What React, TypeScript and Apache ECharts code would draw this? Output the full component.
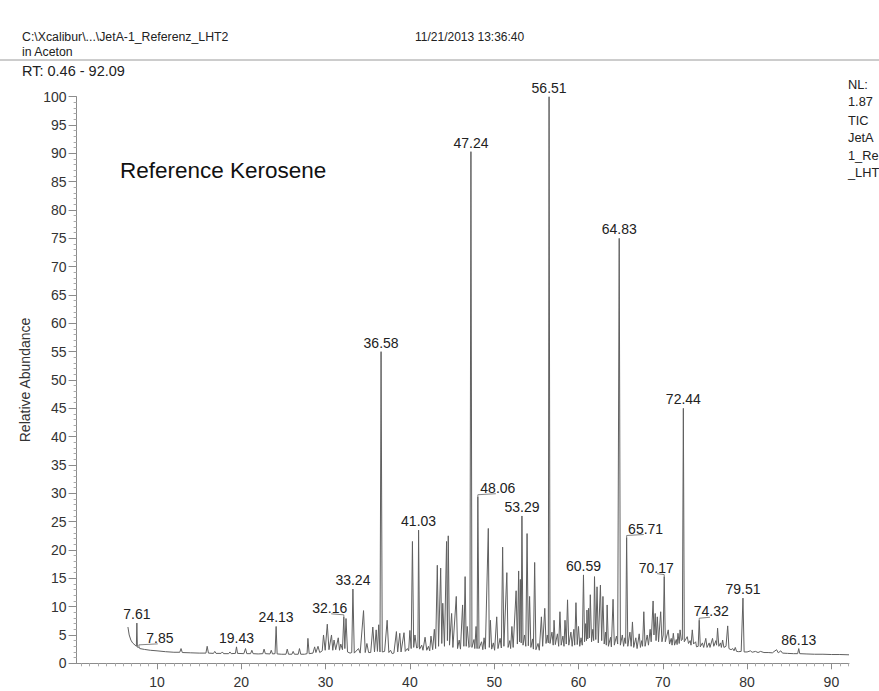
import React, { useEffect, useRef } from "react";
import * as echarts from "echarts";

// Retention-time window and axis tick values
const rtRange = [0.46, 92.09];
const xTickLabels = [10, 20, 30, 40, 50, 60, 70, 80, 90];

// Labelled peaks: [retention time (min), relative abundance (%)]
const labeledPeaks: number[][] = [
  [7.61, 7.1], [7.85, 2.9], [19.43, 2.9], [24.13, 6.5], [32.16, 8.2],
  [33.24, 13.1], [36.58, 55.0], [41.03, 23.5], [47.24, 90.3], [48.06, 29.4],
  [53.29, 26.0], [56.51, 100], [60.59, 15.6], [64.83, 75.0], [65.71, 22.2],
  [70.17, 15.3], [72.44, 45.0], [74.32, 7.6], [79.51, 11.5], [86.13, 2.6],
];

// TIC trace between the labelled peaks: [retention time, relative abundance]
const traceEarly: number[][] = [
  [6.55, 6.4], [6.7, 5.0], [6.9, 4.1], [7.1, 3.6], [7.4, 3.2], [7.55, 3.0],
  [7.67, 2.9], [7.75, 2.75], [7.95, 2.6], [8.5, 2.45], [9.2, 2.3], [10, 2.2],
  [11, 2.05], [12, 1.95], [12.7, 1.95], [12.85, 2.6], [13.0, 1.9], [14, 1.85],
  [15, 1.8], [15.8, 1.8], [15.95, 3.0], [16.1, 1.8], [16.7, 1.75], [16.85, 2.1],
  [17, 1.75], [17.6, 1.75], [17.75, 2.0], [17.9, 1.7], [18.5, 1.7], [18.65, 2.0],
  [18.8, 1.7], [19.3, 1.75], [19.55, 1.75], [20.3, 1.7], [20.5, 2.6], [20.65, 1.7],
  [21.1, 1.7], [21.25, 2.3], [21.4, 1.7], [22, 1.65], [22.55, 1.7], [22.7, 2.5],
  [22.85, 1.7], [23.4, 1.65], [23.55, 2.3], [23.7, 1.65], [24.0, 1.7], [24.25, 1.65],
  [24.8, 1.6], [25.3, 1.6], [25.45, 2.5], [25.6, 1.6], [26.0, 1.6], [26.15, 2.1],
  [26.3, 1.6], [26.75, 1.6], [26.9, 2.6], [27.05, 1.6], [27.5, 1.6], [27.8, 1.7],
  [27.9, 4.4], [28.05, 1.7], [28.5, 1.8], [28.7, 2.9], [28.85, 1.9], [29.1, 3.0],
  [29.3, 1.9], [29.6, 2.2], [29.75, 5.0], [29.95, 2.3], [30.2, 6.9], [30.4, 2.4],
];

const traceC30: number[][] = [
  [30.7, 5.0], [30.85, 2.3], [31.0, 4.1], [31.2, 2.4], [31.5, 4.5], [31.65, 2.3],
  [31.8, 3.4], [32.0, 2.4], [32.28, 2.6], [32.42, 7.9], [32.6, 2.0], [32.9, 1.8],
  [33.1, 1.9], [33.4, 1.8], [33.9, 2.6], [34.1, 1.8], [34.5, 9.3], [34.7, 1.9],
  [34.9, 3.5], [35.1, 1.9], [35.35, 1.9], [35.6, 6.4], [35.8, 2.0], [36.0, 5.9],
  [36.15, 2.1], [36.3, 6.8], [36.45, 2.0], [36.72, 2.0], [37.0, 2.1], [37.3, 7.6],
  [37.5, 1.9], [37.7, 2.3], [37.9, 1.7], [38.1, 1.8], [38.4, 5.6], [38.55, 2.0],
  [38.8, 5.3], [38.95, 2.0], [39.3, 5.4], [39.45, 2.1], [39.7, 2.6], [39.85, 2.2],
  [40.0, 5.8], [40.15, 2.6], [40.3, 21.5], [40.45, 2.8], [40.6, 5.0], [40.8, 2.7],
  [40.95, 2.8],
];

const traceC40: number[][] = [
  [41.15, 2.5], [41.4, 3.2], [41.55, 2.3], [41.8, 4.6], [42.0, 2.3], [42.2, 3.0],
  [42.35, 2.2], [42.5, 4.8], [42.7, 2.4], [42.9, 6.0], [43.05, 2.6], [43.25, 17.3],
  [43.4, 3.0], [43.65, 16.8], [43.78, 3.5], [43.9, 10.6], [44.1, 3.0], [44.35, 21.5],
  [44.45, 4.0], [44.55, 22.5], [44.7, 3.2], [44.95, 8.8], [45.1, 2.8], [45.5, 11.8],
  [45.65, 2.6], [45.85, 4.1], [46.0, 2.5], [46.25, 10.3], [46.4, 3.0], [46.55, 15.3],
  [46.68, 3.0], [46.8, 6.5], [47.0, 2.8], [47.12, 3.0], [47.36, 2.8], [47.6, 4.2],
  [47.7, 2.6], [47.85, 6.5], [47.97, 2.6], [48.2, 2.6], [48.5, 3.8], [48.65, 2.4],
  [48.8, 4.5], [48.95, 2.5], [49.3, 23.8], [49.42, 2.8], [49.55, 7.6], [49.7, 2.5],
  [49.9, 3.6], [50.05, 2.3], [50.3, 8.2], [50.45, 2.6], [50.7, 4.4], [50.85, 2.7],
  [51.0, 20.5], [51.15, 3.0], [51.5, 16.0], [51.65, 2.8], [51.85, 4.0], [51.95, 2.6],
  [52.1, 6.5], [52.25, 2.8], [52.6, 12.8], [52.75, 3.4], [52.9, 16.3], [53.0, 3.8],
  [53.1, 14.8], [53.2, 3.6], [53.42, 3.2], [53.6, 5.0], [53.75, 3.0], [53.9, 22.9],
  [54.05, 3.1], [54.2, 11.8], [54.35, 2.8], [54.55, 4.3], [54.65, 2.5], [54.8, 17.8],
  [54.95, 2.4], [55.2, 3.5], [55.35, 2.3], [55.6, 8.2], [55.75, 3.0], [56.0, 9.7],
  [56.15, 3.5], [56.3, 5.0], [56.42, 3.6], [56.62, 3.5],
];

const traceC56: number[][] = [
  [56.85, 5.5], [57.0, 3.2], [57.1, 7.6], [57.25, 3.3], [57.5, 5.2], [57.65, 3.0],
  [57.8, 9.1], [57.95, 3.2], [58.15, 4.8], [58.28, 3.0], [58.4, 7.6], [58.55, 3.4],
  [58.7, 11.2], [58.85, 3.2], [59.1, 5.5], [59.25, 3.0], [59.45, 6.0], [59.55, 3.2],
  [59.7, 10.7], [59.85, 3.3], [60.0, 6.5], [60.15, 3.0], [60.3, 4.5], [60.45, 3.2],
  [60.72, 3.8], [60.85, 7.0], [60.95, 4.0], [61.0, 9.4], [61.1, 4.3], [61.2, 9.7],
  [61.3, 4.5], [61.4, 12.1], [61.55, 3.8], [61.7, 6.0], [61.8, 4.0], [61.9, 15.3],
  [62.05, 4.2], [62.2, 13.5], [62.35, 3.6], [62.6, 13.8], [62.75, 4.0], [62.9, 11.8],
  [63.05, 3.4], [63.2, 5.5], [63.3, 3.2], [63.4, 10.3], [63.55, 3.0], [63.8, 4.6],
  [63.9, 2.9], [64.1, 11.3], [64.25, 3.2], [64.5, 4.8], [64.65, 3.4], [64.97, 3.2],
  [65.2, 5.0], [65.35, 3.0], [65.5, 4.5], [65.6, 3.5], [65.85, 3.0], [66.1, 5.5],
  [66.25, 3.0], [66.4, 7.3], [66.55, 2.8], [66.8, 4.5], [66.95, 2.6], [67.2, 5.2],
  [67.35, 2.8], [67.5, 4.0], [67.6, 3.0], [67.75, 9.1], [67.9, 3.0], [68.15, 5.0],
  [68.3, 3.2], [68.5, 6.0], [68.62, 3.8], [68.85, 11.0], [68.95, 5.0], [69.1, 8.8],
  [69.2, 4.0], [69.35, 8.2], [69.5, 3.8], [69.75, 9.1], [69.9, 3.8], [70.05, 5.0],
  [70.3, 3.8], [70.65, 5.9], [70.8, 3.4], [71.0, 4.4], [71.1, 3.2], [71.25, 5.3],
  [71.4, 3.2], [71.6, 4.2], [71.7, 3.3], [71.8, 5.3], [71.95, 3.5], [72.05, 5.9],
  [72.2, 4.0], [72.32, 4.2],
];

const traceLate: number[][] = [
  [72.55, 3.8], [72.9, 4.7], [73.05, 3.5], [73.25, 4.0], [73.35, 3.2], [73.5, 5.9],
  [73.65, 3.4], [73.9, 3.8], [74.0, 2.9], [74.2, 3.0], [74.45, 2.9], [74.7, 3.6],
  [74.85, 2.8], [75.1, 4.4], [75.25, 2.8], [75.5, 3.6], [75.6, 2.8], [75.9, 4.4],
  [76.05, 3.0], [76.3, 4.0], [76.38, 3.2], [76.5, 6.2], [76.65, 3.0], [76.85, 3.6],
  [76.95, 2.8], [77.1, 4.1], [77.25, 2.8], [77.5, 3.0], [77.7, 6.6], [77.85, 2.6],
  [78.1, 2.4], [78.3, 2.6], [78.45, 2.2], [78.6, 2.8], [78.75, 2.1], [79.0, 2.05],
  [79.3, 2.1], [79.65, 2.0], [80.0, 2.0], [80.4, 2.2], [80.6, 1.95], [81.0, 2.1],
  [81.3, 1.9], [81.6, 2.1], [82, 1.9], [82.5, 1.9], [83.0, 1.85], [83.5, 2.4],
  [83.7, 1.85], [84, 2.2], [84.2, 1.8], [84.8, 1.75], [85.5, 1.7], [86.0, 1.7],
  [86.25, 1.7], [87, 1.65], [88, 1.6], [89, 1.6], [90, 1.55], [91, 1.55], [92.09, 1.5],
];

// Horizontal pixel nudges for peak labels drawn with a leader line
const labelNudge: Record<string, number> = {
  "7.85": 21, "32.16": -14, "48.06": 20, "65.71": 19, "70.17": -8, "74.32": 12,
};

// Instrument note at the right margin (only its left edge fits on the page)
const noteLines = ["NL:", "1.87", "TIC", "JetA", "1_Re", "_LHT"];
const noteOffsets = [0, 17, 36, 53, 71, 88];

const FONT = 'Arial, "Liberation Sans", Helvetica, sans-serif';

export default function App() {
  const ref = useRef<HTMLDivElement>(null);

  useEffect(() => {
    if (!ref.current) return;
    const chart = echarts.init(ref.current, null, { renderer: "svg" });

    const trace = [
      ...traceEarly, ...traceC30, ...traceC40, ...traceC56, ...traceLate, ...labeledPeaks,
    ].sort((a, b) => a[0] - b[0]);

    const minorTicks: number[] = [];
    for (let v = 1; v <= 92; v++) if (v % 10 !== 0) minorTicks.push(v);

    const axisColor = "#8c8c8c";
    const textColor = "#333";

    const option: any = {
      animation: false,
      backgroundColor: "#fff",
      grid: { left: 76.6, right: 30, top: 96.7, bottom: 27.7, containLabel: false },
      xAxis: [
        {
          type: "value",
          min: rtRange[0],
          max: rtRange[1],
          position: "bottom",
          axisLine: { show: true, lineStyle: { color: axisColor, width: 1 } },
          axisTick: { show: true, customValues: xTickLabels, length: 6, lineStyle: { color: axisColor } },
          axisLabel: { customValues: xTickLabels, fontSize: 14, fontFamily: FONT, color: textColor, margin: 12 },
          splitLine: { show: false },
        },
        {
          type: "value",
          min: rtRange[0],
          max: rtRange[1],
          position: "bottom",
          axisLine: { show: false },
          axisTick: { show: true, customValues: minorTicks, length: 3, lineStyle: { color: "#aaa" } },
          axisLabel: { show: false },
          splitLine: { show: false },
        },
      ],
      yAxis: {
        type: "value",
        min: 0,
        max: 100,
        interval: 5,
        name: "Relative Abundance",
        nameLocation: "middle",
        nameRotate: 90,
        nameGap: 42,
        nameTextStyle: { fontSize: 14, fontFamily: FONT, color: textColor },
        axisLine: { show: true, lineStyle: { color: axisColor, width: 1 } },
        axisTick: { show: true, length: 8, lineStyle: { color: axisColor } },
        minorTick: { show: true, splitNumber: 5, length: 3, lineStyle: { color: "#aaa" } },
        axisLabel: { fontSize: 14, fontFamily: FONT, color: textColor, margin: 10 },
        splitLine: { show: false },
      },
      series: [
        {
          type: "line",
          xAxisIndex: 0,
          yAxisIndex: 0,
          data: trace,
          showSymbol: false,
          symbol: "none",
          lineStyle: { color: "#606060", width: 1 },
          z: 2,
        },
        {
          type: "custom",
          xAxisIndex: 0,
          yAxisIndex: 0,
          data: labeledPeaks,
          clip: false,
          z: 5,
          renderItem: (_params: any, api: any) => {
            const rt = api.value(0) as number;
            const h = api.value(1) as number;
            const [px, py] = api.coord([rt, h]);
            const text = rt.toFixed(2);
            const dx = labelNudge[text] ?? 0;
            const children: any[] = [
              {
                type: "text",
                x: px + dx,
                y: py - 9,
                style: {
                  text,
                  fontSize: 14,
                  fontFamily: FONT,
                  fill: "#222",
                  align: "center",
                  verticalAlign: "middle",
                },
              },
            ];
            if (dx) {
              children.push({
                type: "polyline",
                shape: { points: [[px, py], [px, py - 2], [px + dx * 0.9, py - 3]] },
                style: { stroke: "#666", lineWidth: 0.8, fill: null },
              });
            }
            return { type: "group", children };
          },
        },
      ],
      graphic: [
        {
          type: "text",
          left: 22,
          top: 31,
          style: { text: "C:\\Xcalibur\\...\\JetA-1_Referenz_LHT2", fontSize: 12.3, fontFamily: FONT, fill: "#222" },
        },
        {
          type: "text",
          left: 22,
          top: 46,
          style: { text: "in Aceton", fontSize: 12.3, fontFamily: FONT, fill: "#222" },
        },
        {
          type: "text",
          left: 415,
          top: 31,
          style: { text: "11/21/2013 13:36:40", fontSize: 12, fontFamily: FONT, fill: "#222" },
        },
        {
          type: "line",
          shape: { x1: 0, y1: 60, x2: 879, y2: 60 },
          style: { stroke: "#9a9a9a", lineWidth: 1 },
        },
        {
          type: "text",
          left: 22,
          top: 63,
          style: { text: "RT: 0.46 - 92.09", fontSize: 14.5, fontFamily: FONT, fill: "#222" },
        },
        {
          type: "text",
          left: 120,
          top: 159,
          style: { text: "Reference Kerosene", fontSize: 22.5, fontFamily: FONT, fill: "#111" },
        },
        {
          type: "group",
          left: 848,
          top: 78,
          children: noteLines.map((t, i) => ({
            type: "text",
            x: 0,
            y: noteOffsets[i],
            style: { text: t, fontSize: 12.8, fontFamily: FONT, fill: "#222" },
          })),
        },
      ],
    };

    chart.setOption(option);
    return () => chart.dispose();
  }, []);

  return (
    <div
      ref={ref}
      style={{ position: "absolute", left: 0, top: 0, width: 879, height: 691, background: "#fff" }}
    />
  );
}
